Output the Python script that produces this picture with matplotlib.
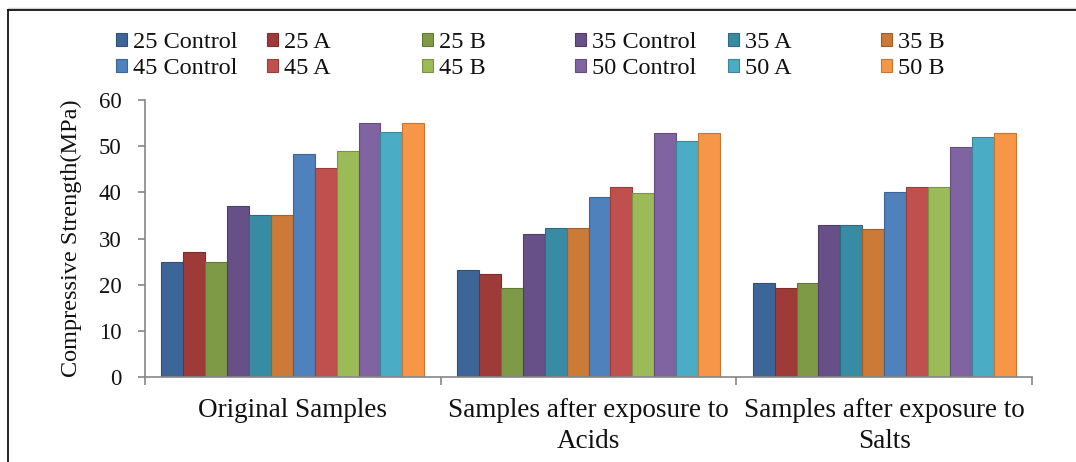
import matplotlib
matplotlib.use("Agg")
import matplotlib.pyplot as plt
import matplotlib.colors as mcolors
from matplotlib.patches import Patch
from matplotlib.lines import Line2D
import numpy as np

plt.rcParams['font.family'] = ['Liberation Serif', 'DejaVu Serif']

# Data
categories = ["Original Samples",
              "Samples after exposure to\nAcids",
              "Samples after exposure to\nSalts"]
series_names = ["25 Control", "25 A", "25 B",
                "35 Control", "35 A", "35 B",
                "45 Control", "45 A", "45 B",
                "50 Control", "50 A", "50 B"]
values = {
    "25 Control": [25.0, 23.2, 20.3],
    "25 A":       [27.1, 22.4, 19.3],
    "25 B":       [25.0, 19.3, 20.3],
    "35 Control": [37.0, 30.9, 33.0],
    "35 A":       [35.1, 32.2, 33.0],
    "35 B":       [35.1, 32.2, 32.0],
    "45 Control": [48.3, 39.1, 40.0],
    "45 A":       [45.2, 41.2, 41.2],
    "45 B":       [49.0, 39.9, 41.2],
    "50 Control": [55.1, 52.9, 49.9],
    "50 A":       [53.0, 51.2, 52.0],
    "50 B":       [55.1, 52.9, 52.9],
}
colors = {
    "25 Control": "#3D6698", "25 A": "#9E3B39", "25 B": "#7E9A47",
    "35 Control": "#674F87", "35 A": "#378BA2", "35 B": "#CB7A37",
    "45 Control": "#4F81BD", "45 A": "#C0504D", "45 B": "#9BBB59",
    "50 Control": "#8064A2", "50 A": "#4BACC6", "50 B": "#F79646",
}
y_ticks = [0, 10, 20, 30, 40, 50, 60]

def darker(c, f=0.78):
    r, g, b = mcolors.to_rgb(c)
    return (r * f, g * f, b * f)

fig = plt.figure(figsize=(10.76, 4.62), dpi=100)
ax = fig.add_axes([0.1348, 0.184, 0.8243, 0.5995])

n = len(series_names)
bar_w = 0.0741
x = np.arange(len(categories))
for i, name in enumerate(series_names):
    offs = (i - (n - 1) / 2) * bar_w
    ax.bar(x + offs, values[name], width=bar_w, color=colors[name],
           edgecolor=darker(colors[name]), linewidth=0.8, zorder=2)

ax.set_xlim(-0.5, len(categories) - 0.5)
ax.set_ylim(0, 60)
ax.set_yticks(y_ticks)

axis_gray = "#868686"
for s in ("top", "right"):
    ax.spines[s].set_visible(False)
for s in ("left", "bottom"):
    ax.spines[s].set_color(axis_gray)
    ax.spines[s].set_linewidth(1.2)

ax.tick_params(axis="y", direction="out", length=5, width=1.2, color=axis_gray,
               labelsize=16.5, pad=12, labelcolor="#111111")
# Group boundary ticks (major) and category labels (minor)
ax.set_xticks(np.arange(-0.5, len(categories)), labels=[""] * (len(categories) + 1))
ax.set_xticks(x, labels=categories, minor=True)
ax.tick_params(axis="x", which="major", direction="out", length=6, width=1.2,
               color=axis_gray)
ax.tick_params(axis="x", which="minor", length=0, labelsize=19.5, pad=15,
               labelcolor="#111111")
for lbl in ax.get_xticklabels(minor=True):
    lbl.set_linespacing(1.35)

ax.set_ylabel("Compressive Strength(MPa)", fontsize=17.5, color="#111111", labelpad=12)

# Legend: six columns, two rows
col_x = [0.108, 0.248, 0.392, 0.534, 0.677, 0.819]
for c in range(6):
    names = [series_names[3 * (c // 3) + c % 3], series_names[6 + 3 * (c // 3) + c % 3]]
    handles = [Patch(facecolor=colors[nm], edgecolor=darker(colors[nm]), linewidth=0.8)
               for nm in names]
    leg = fig.legend(handles, names, loc="upper left",
                     bbox_to_anchor=(col_x[c], 0.931), frameon=False,
                     fontsize=17.5, handlelength=0.45, handleheight=0.45,
                     handletextpad=0.25, labelspacing=0.22, borderaxespad=0,
                     borderpad=0)
    for t in leg.get_texts():
        t.set_color("#111111")

# Outer frame lines
fig.add_artist(Line2D([8 / 1076, 1], [1 - 7.5 / 462] * 2, color="#d0d0d0", lw=1.0,
                      transform=fig.transFigure))
fig.add_artist(Line2D([8 / 1076, 1], [1 - 9.5 / 462] * 2, color="#111111", lw=1.3,
                      transform=fig.transFigure))
fig.add_artist(Line2D([8 / 1076, 8 / 1076], [0, 1 - 9.5 / 462], color="#111111", lw=1.3,
                      transform=fig.transFigure))

fig.savefig("out.png", dpi=100)
